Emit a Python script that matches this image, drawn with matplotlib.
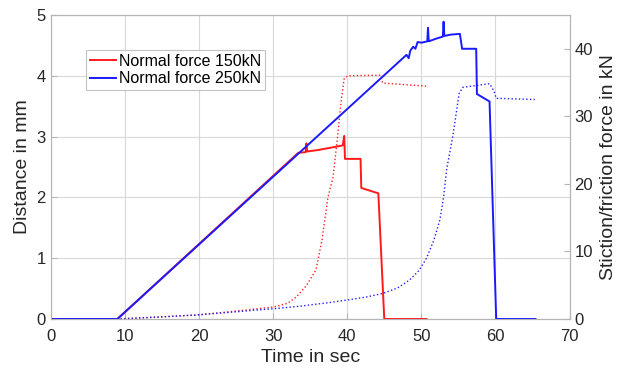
import matplotlib
matplotlib.use('Agg')
import matplotlib.pyplot as plt

# force (kN, right axis) - solid lines
force_150_t = [0, 9.0, 33.4, 34.4, 34.5, 34.6, 36.0, 38.0, 39.4, 39.6, 39.7, 41.8, 41.9, 44.2, 45.0, 50.7]
force_150_kn = [0, 0, 24.6, 24.7, 26.0, 24.8, 25.0, 25.4, 25.7, 27.1, 23.7, 23.7, 19.4, 18.6, 0, 0]

force_250_t = [0, 9.0, 48.0, 48.3, 48.5, 48.9, 49.2, 49.5, 50.0, 50.8, 50.9, 51.0, 52.0, 52.9, 53.0,
               53.1, 54.0, 55.2, 55.5, 57.4, 57.5, 59.2, 60.1, 65.4]
force_250_kn = [0, 0, 39.1, 38.6, 39.7, 40.3, 40.0, 41.0, 40.9, 41.1, 43.1, 41.1, 41.5, 41.8, 44.0,
                41.9, 42.1, 42.2, 40.0, 40.0, 33.3, 32.2, 0, 0]

# distance (mm, left axis) - dotted lines
dist_150_t = [0, 9.0, 10.7, 15.0, 19.7, 24.2, 28.0, 30.2, 32.0, 33.2, 34.5, 35.8, 36.6, 37.4,
              38.1, 38.7, 39.2, 39.6, 40.1, 44.4, 44.8, 50.7]
dist_150_mm = [0, 0, 0.01, 0.035, 0.066, 0.12, 0.17, 0.20, 0.26, 0.37, 0.55, 0.81, 1.3, 2.0,
               2.34, 3.0, 3.60, 3.96, 4.0, 4.01, 3.88, 3.83]

dist_250_t = [0, 9.0, 10.7, 15.0, 19.7, 24.2, 28.0, 30.2, 33.6, 37.6, 39.9, 42.5, 44.8, 46.8, 48.4,
              49.7, 50.7, 51.7, 52.5, 53.0, 53.4, 54.3, 55.1, 55.6, 59.2, 59.8, 60.1, 65.3]
dist_250_mm = [0, 0, 0.01, 0.035, 0.066, 0.11, 0.15, 0.17, 0.21, 0.27, 0.31, 0.36, 0.42, 0.51, 0.64,
               0.80, 1.0, 1.3, 1.63, 2.0, 2.45, 3.05, 3.71, 3.81, 3.87, 3.75, 3.63, 3.61]

plt.rcParams['font.family'] = ['Liberation Sans', 'DejaVu Sans']

fig = plt.figure(figsize=(6.28, 3.72), dpi=100)
ax = fig.add_axes([0.0807, 0.1425, 0.8263, 0.8172])
ax2 = ax.twinx()

ax.plot(dist_150_t, dist_150_mm, ':', color='#ff2020', linewidth=1.0)
ax.plot(dist_250_t, dist_250_mm, ':', color='#2020ff', linewidth=1.0)
l1, = ax2.plot(force_150_t, force_150_kn, '-', color='#ff1a1a', linewidth=1.4, label='Normal force 150kN')
l2, = ax2.plot(force_250_t, force_250_kn, '-', color='#1a1aff', linewidth=1.4, label='Normal force 250kN')

ax.set_xlim(0, 70)
ax.set_ylim(0, 5)
ax2.set_ylim(0, 45)
ax.set_xticks(range(0, 71, 10))
ax.set_yticks(range(0, 6))
ax2.set_yticks(range(0, 41, 10))

ax.grid(color='#d9d9d9', linewidth=0.8)
ax.set_axisbelow(True)
for a in (ax, ax2):
    for s in a.spines.values():
        s.set_color('#b5b5b5')
    a.tick_params(direction='in', colors='#b5b5b5', labelcolor='#262626', labelsize=12, length=4)
ax.tick_params(axis='x', pad=7)

ax.set_xlabel('Time in sec', fontsize=14, color='#262626', labelpad=4)
ax.set_ylabel('Distance in mm', fontsize=14, color='#262626', labelpad=4)
ax2.set_ylabel('Stiction/friction force in kN', fontsize=14, color='#262626', labelpad=5)

leg = ax2.legend(handles=[l1, l2], loc='upper left', bbox_to_anchor=(0.068, 0.885), fontsize=11.5,
                 frameon=True, fancybox=False, edgecolor='#b5b5b5', handlelength=1.6,
                 handletextpad=0.2, borderpad=0.25, labelspacing=0.15, borderaxespad=0)
leg.get_frame().set_linewidth(0.8)

fig.savefig('out.png', dpi=100)
